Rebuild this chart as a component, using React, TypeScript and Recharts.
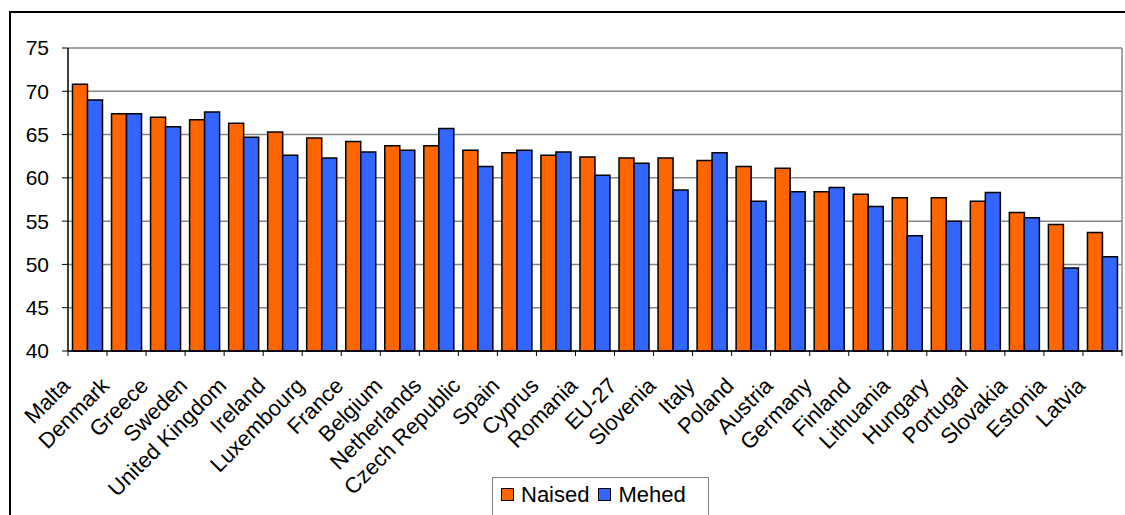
import React from 'react';
import { BarChart, Bar, XAxis, YAxis, CartesianGrid } from 'recharts';

const countries = [
  'Malta', 'Denmark', 'Greece', 'Sweden', 'United Kingdom', 'Ireland', 'Luxembourg',
  'France', 'Belgium', 'Netherlands', 'Czech Republic', 'Spain', 'Cyprus', 'Romania',
  'EU-27', 'Slovenia', 'Italy', 'Poland', 'Austria', 'Germany', 'Finland', 'Lithuania',
  'Hungary', 'Portugal', 'Slovakia', 'Estonia', 'Latvia',
];

const naised = [
  70.8, 67.4, 67.0, 66.7, 66.3, 65.3, 64.6, 64.2, 63.7, 63.7, 63.2, 62.9, 62.6, 62.4,
  62.3, 62.3, 62.0, 61.3, 61.1, 58.4, 58.1, 57.7, 57.7, 57.3, 56.0, 54.6, 53.7,
];

const mehed = [
  69.0, 67.4, 65.9, 67.6, 64.7, 62.6, 62.3, 63.0, 63.2, 65.7, 61.3, 63.2, 63.0, 60.3,
  61.7, 58.6, 62.9, 57.3, 58.4, 58.9, 56.7, 53.3, 55.0, 58.3, 55.4, 49.6, 50.9,
];

const yTicks = [40, 45, 50, 55, 60, 65, 70, 75];

const FONT = '"Liberation Sans", Arial, sans-serif';
const W = 1125;
const H = 515;
const PLOT_LEFT = 68;
const PLOT_RIGHT = 1122;
const AXIS_Y = 351;
const BAND = (PLOT_RIGHT - PLOT_LEFT) / countries.length;

const chartData = countries.map((name, i) => ({
  name,
  Naised: naised[i],
  Mehed: mehed[i],
}));

// category ticks sit on the band edges, labels rotated 45deg ending near the centre
const CountryTick = (props: any) => {
  const { x, y, payload, index } = props;
  const lx = x - 16;
  const ly = y + 36;
  return (
    <g>
      <line x1={x - BAND / 2} x2={x - BAND / 2} y1={y} y2={y + 5} stroke="#000" strokeWidth={1} />
      {index === countries.length - 1 && (
        <line x1={x + BAND / 2} x2={x + BAND / 2} y1={y} y2={y + 5} stroke="#000" strokeWidth={1} />
      )}
      <g transform={`translate(${lx} ${ly}) rotate(-45)`}>
        <text
          x={0}
          y={0}
          textAnchor="end"
          fill="#000"
          style={{ fontSize: '22px', fontFamily: FONT }}
        >
          {payload.value}
        </text>
      </g>
    </g>
  );
};

const LegendSwatch = ({ color }: { color: string }) => (
  <span
    style={{
      display: 'inline-block',
      width: 11,
      height: 11,
      background: color,
      border: '1.5px solid #000',
      marginRight: 7,
      verticalAlign: 'middle',
      position: 'relative',
      top: -2,
    }}
  />
);

export default function App() {
  return (
    <div style={{ position: 'absolute', left: 0, top: 0, width: W, height: H, overflow: 'hidden', background: '#fff' }}>
      <div
        style={{
          position: 'absolute',
          left: 9,
          top: 11,
          width: W,
          height: H,
          border: '2px solid #000',
          boxSizing: 'border-box',
        }}
      />
      <div style={{ position: 'absolute', left: 0, top: 0 }}>
        <BarChart
          width={W}
          height={H}
          data={chartData}
          margin={{ top: 48, right: W - PLOT_RIGHT, left: 0, bottom: 0 }}
          barCategoryGap="11.5%"
          barGap={0}
        >
          <CartesianGrid stroke="#858585" strokeWidth={1.5} verticalPoints={[PLOT_RIGHT]} />
          <XAxis
            dataKey="name"
            interval={0}
            height={H - AXIS_Y}
            tickSize={0}
            tickMargin={0}
            tickLine={false}
            axisLine={{ stroke: '#000', strokeWidth: 1.5 }}
            tick={<CountryTick />}
          />
          <YAxis
            width={PLOT_LEFT}
            domain={[40, 75]}
            ticks={yTicks}
            interval={0}
            tickSize={6}
            tickMargin={13}
            axisLine={{ stroke: '#000', strokeWidth: 1.5 }}
            tickLine={{ stroke: '#000', strokeWidth: 1 }}
            tick={{ fill: '#000', fontSize: 21, fontFamily: FONT }}
          />
          <Bar dataKey="Naised" fill="#FF6600" stroke="#000" strokeWidth={1.5} isAnimationActive={false} />
          <Bar dataKey="Mehed" fill="#3366FF" stroke="#000" strokeWidth={1.5} isAnimationActive={false} />
        </BarChart>
      </div>
      <div
        style={{
          position: 'absolute',
          left: 492,
          top: 477,
          width: 217,
          height: 60,
          border: '1.5px solid #808080',
          boxSizing: 'border-box',
          fontFamily: FONT,
          fontSize: 22,
          color: '#000',
          paddingLeft: 8,
          paddingTop: 4,
          whiteSpace: 'nowrap',
        }}
      >
        <LegendSwatch color="#FF6600" />
        <span style={{ marginRight: 9 }}>Naised</span>
        <LegendSwatch color="#3366FF" />
        <span>Mehed</span>
      </div>
    </div>
  );
}
